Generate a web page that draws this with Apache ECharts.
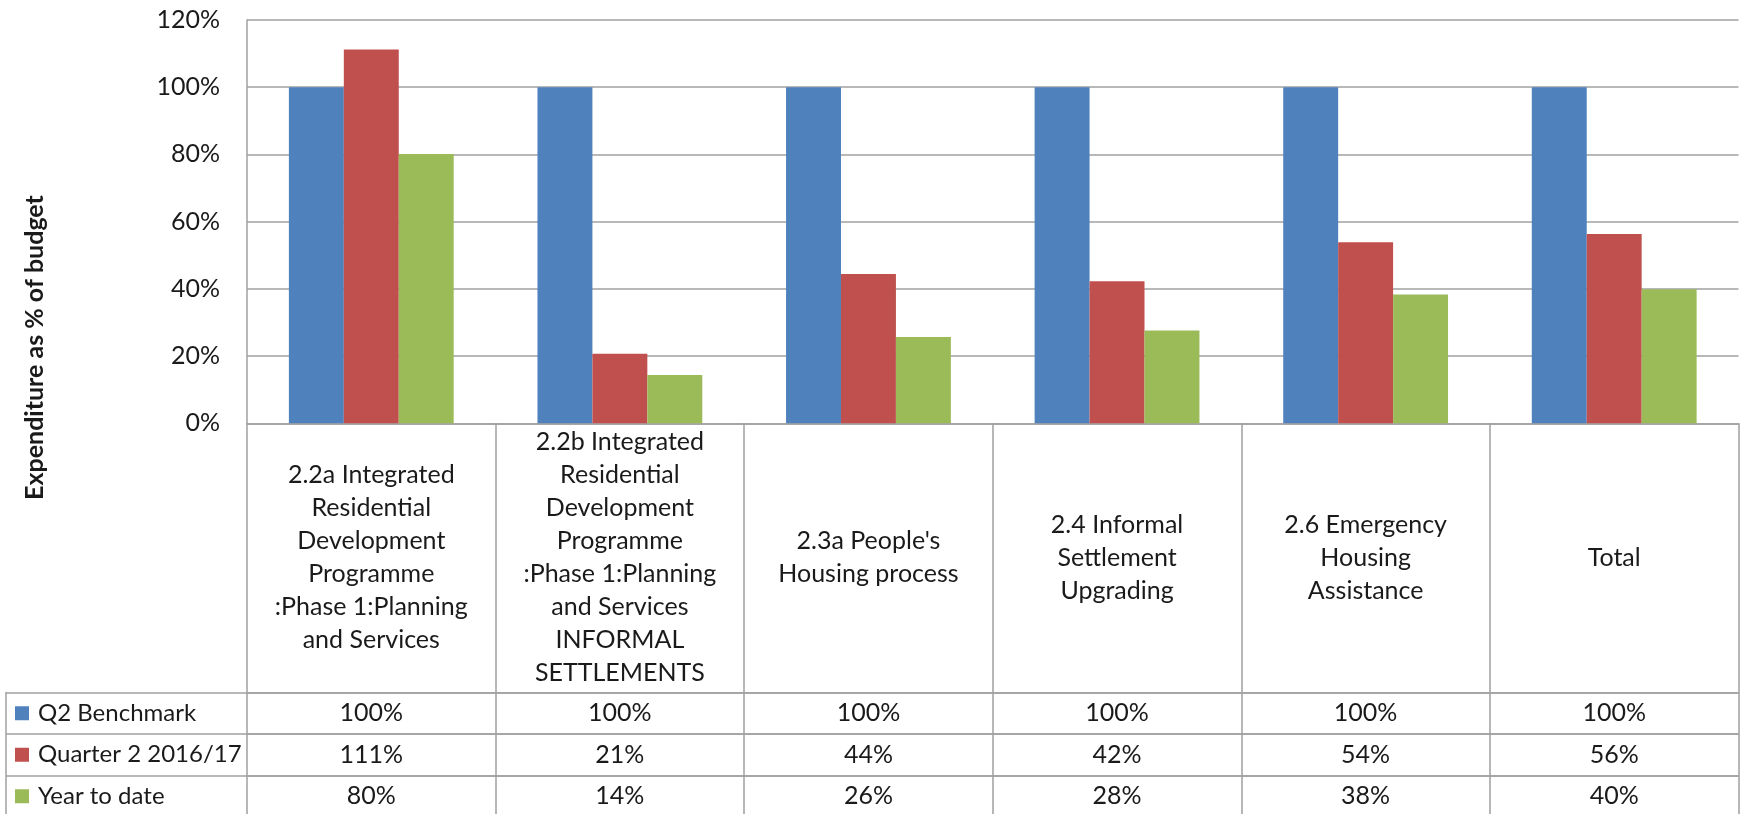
<!DOCTYPE html>
<html>
<head>
<meta charset="utf-8">
<script src="https://cdn.jsdelivr.net/npm/echarts/dist/echarts.min.js"></script>
<style>
html,body{margin:0;padding:0;background:#ffffff;}
#chart{width:1742px;height:814px;}
</style>
</head>
<body>
<div id="chart"></div>
<script>
// ---- data ----
const categories = [
  "2.2a Integrated\nResidential\nDevelopment\nProgramme\n:Phase 1:Planning\nand Services",
  "2.2b Integrated\nResidential\nDevelopment\nProgramme\n:Phase 1:Planning\nand Services\nINFORMAL\nSETTLEMENTS",
  "2.3a People's\nHousing process",
  "2.4 Informal\nSettlement\nUpgrading",
  "2.6 Emergency\nHousing\nAssistance",
  "Total"
];
const seriesNames = ["Q2 Benchmark", "Quarter 2 2016/17", "Year to date"];
const q2Benchmark = [1.00, 1.00, 1.00, 1.00, 1.00, 1.00];
const quarter2 = [1.112, 0.207, 0.444, 0.423, 0.539, 0.563];
const yearToDate = [0.801, 0.144, 0.257, 0.276, 0.383, 0.399];
const yMin = 0, yMax = 1.2, yStep = 0.2;
const yTitle = "Expenditure as % of budget";

// ---- styling ----
const colors = ["#4F81BD", "#C0504D", "#9BBB59"];
const FONT = "Lato, 'Liberation Sans Narrow', 'Liberation Sans', sans-serif";
const FS = 25;
const TXT = "#1a1a1a";
const LINE = "#a0a0a0";
const LW = 1.5;
const PLOT_LEFT = 247, PLOT_RIGHT = 3.5, PLOT_TOP = 20, PLOT_BOTTOM = 814 - 423.3;
const HEADER_H = 269.2, ROW_H = 41.5;

const rows = [q2Benchmark, quarter2, yearToDate];
const pct = v => Math.round(v * 100) + "%";

const rowAxes = rows.map((vals, r) => ({
  type: "category",
  gridIndex: 0,
  data: categories,
  position: "bottom",
  offset: HEADER_H + r * ROW_H,
  axisLine: {show: true, lineStyle: {color: LINE, width: LW}},
  axisTick: {show: true, alignWithLabel: false, interval: 0, length: r === rows.length - 1 ? ROW_H + 6 : ROW_H, lineStyle: {color: LINE, width: LW}},
  axisLabel: {
    interval: 0, margin: ROW_H / 2, verticalAlign: "middle",
    fontSize: FS, fontFamily: FONT, color: TXT,
    formatter: (value, idx) => pct(vals[idx])
  },
  splitLine: {show: false}
}));

const option = {
  backgroundColor: "#ffffff",
  animation: false,
  textStyle: {fontFamily: FONT},
  grid: [
    {left: PLOT_LEFT, right: PLOT_RIGHT, top: PLOT_TOP, bottom: PLOT_BOTTOM, containLabel: false, outerBoundsMode: "none"},
    {left: 6, right: PLOT_RIGHT, top: 423.3 + HEADER_H, height: 3 * ROW_H, containLabel: false, outerBoundsMode: "none"}
  ],
  legend: {
    orient: "vertical", left: 15, top: 423.3 + HEADER_H, height: 3 * ROW_H + 20, padding: 0,
    itemWidth: 14, itemHeight: 14, itemGap: 0, icon: "rect", selectedMode: false,
    data: seriesNames,
    textStyle: {fontSize: 24, fontFamily: FONT, color: TXT, lineHeight: ROW_H, padding: [0, 0, 0, 4]}
  },
  xAxis: [
    {
      type: "category", gridIndex: 0, data: categories, position: "bottom",
      axisLine: {show: true, lineStyle: {color: LINE, width: LW}},
      axisTick: {show: true, alignWithLabel: false, interval: 0, length: HEADER_H, lineStyle: {color: LINE, width: LW}},
      axisLabel: {interval: 0, margin: HEADER_H / 2, verticalAlign: "middle", align: "center",
        fontSize: FS, fontFamily: FONT, color: TXT, lineHeight: 33},
      splitLine: {show: false}
    },
    ...rowAxes,
    {type: "value", gridIndex: 1, min: 0, max: 1, show: false}
  ],
  yAxis: [
    {
      type: "value", gridIndex: 0, min: yMin, max: yMax, interval: yStep,
      axisLine: {show: true, lineStyle: {color: LINE, width: LW}},
      axisTick: {show: false},
      axisLabel: {formatter: v => pct(v), fontSize: FS, fontFamily: FONT, color: TXT, margin: 27},
      splitLine: {show: true, lineStyle: {color: LINE, width: LW}}
    },
    {
      type: "category", gridIndex: 1, data: seriesNames, inverse: true,
      axisLine: {show: true, lineStyle: {color: LINE, width: LW}},
      axisTick: {show: false},
      axisLabel: {show: false},
      splitLine: {show: true, interval: 0, lineStyle: {color: LINE, width: LW}}
    }
  ],
  graphic: [{
    type: "text", x: 35, y: 347.5, rotation: Math.PI / 2,
    style: {text: yTitle, fontSize: FS, fontWeight: "bold", fontFamily: FONT, fill: TXT,
      textAlign: "center", textVerticalAlign: "middle"}
  }],
  series: rows.map((vals, i) => ({
    name: seriesNames[i], type: "bar", xAxisIndex: 0, yAxisIndex: 0,
    data: vals, barGap: "0%", barCategoryGap: "33.7%",
    itemStyle: {color: colors[i]}
  }))
};

const chart = echarts.init(document.getElementById("chart"), null, {renderer: "canvas"});
chart.setOption(option);
</script>
</body>
</html>
